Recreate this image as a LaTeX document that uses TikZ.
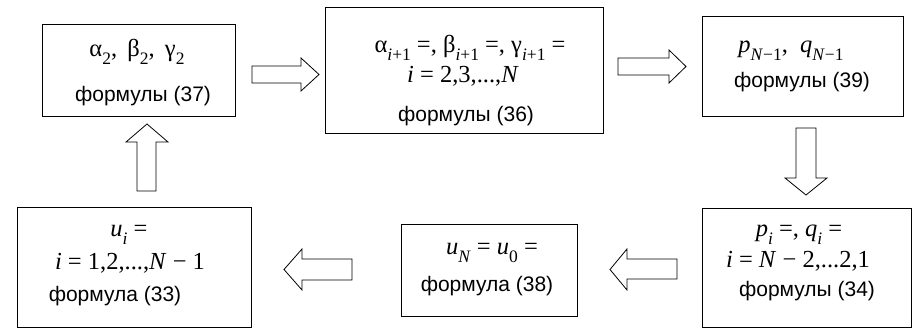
\documentclass[tikz,border=0pt]{standalone}
\usepackage{fontspec}
\setmainfont{Liberation Sans}
\newfontfamily\tms{Liberation Serif}
\newcommand\mathsz{\tms\fontsize{24.5}{28}\selectfont}
\newcommand\subs[1]{\raisebox{-0.3em}{\fontsize{17.5}{19}\selectfont #1}}
\newcommand\vi[1]{\textit{#1}}
\begin{document}
\begin{tikzpicture}[x=1pt,y=-1pt,
  box/.style={draw,line width=0.9pt,inner sep=0pt},
  blk/.style={draw,line width=0.8pt,line join=miter,fill=white},
  mtext/.style={anchor=base,inner sep=0pt,font=\mathsz},
  stext/.style={anchor=base,inner sep=0pt,font=\fontsize{21}{24}\selectfont}]
\useasboundingbox (0,0) rectangle (919,328);
% boxes
\node[box,minimum width=193pt,minimum height=92pt] (b1) at (138.5,70) {};
\node[box,minimum width=278pt,minimum height=126pt] (b2) at (464,70) {};
\node[box,minimum width=201pt,minimum height=100pt] (b3) at (802.5,66) {};
\node[box,minimum width=209pt,minimum height=119pt] (b4) at (806.5,267.5) {};
\node[box,minimum width=176pt,minimum height=92pt] (b5) at (489,270) {};
\node[box,minimum width=234pt,minimum height=120pt] (b6) at (134,267) {};
% texts
\node[mtext] (t1a) at (137,57) {α\subs{2}, \,β\subs{2}, \,γ\subs{2}};
\node[stext] (t1b) at (143,102) {формулы (37)};
\node[mtext] (t2a) at (470,53) {α\subs{\vi{i}+1} =, β\subs{\vi{i}+1} =, γ\subs{\vi{i}+1} =};
\node[mtext] (t2b) at (463,83) {\vi{i} = 2,3,...,\vi{N}};
\node[stext] (t2c) at (466,122) {формулы (36)};
\node[mtext] (t3a) at (791,53) {\vi{p}\subs{\vi{N}−1},\enspace \vi{q}\subs{\vi{N}−1}};
\node[stext] (t3b) at (802,88) {формулы (39)};
\node[mtext] (t4a) at (799,237) {\vi{p}\subs{\vi{i}} =, \vi{q}\subs{\vi{i}} =};
\node[mtext] (t4b) at (798,268) {\vi{i} = \vi{N} − 2,...2,1};
\node[stext] (t4c) at (807,297) {формулы (34)};
\node[mtext] (t5a) at (492,255) {\vi{u}\subs{\vi{N}} = \vi{u}\subs{0} =};
\node[stext] (t5b) at (487,292) {формула (38)};
\node[mtext] (t6a) at (129,237) {\vi{u}\subs{\vi{i}} =};
\node[mtext] (t6b) at (130,270) {\vi{i} = 1,2,...,\vi{N} − 1};
\node[stext] (t6c) at (115,302) {формула (33)};
% block arrows
\draw[blk] (252,66) -- (301,66) -- (301,58) -- (319,74.5) -- (301,91) -- (301,83) -- (252,83) -- cycle;
\draw[blk] (618,58) -- (669,58) -- (669,50) -- (686,66.5) -- (669,83) -- (669,75) -- (618,75) -- cycle;
\draw[blk] (796,128) -- (816,128) -- (816,178) -- (827,178) -- (806,195) -- (785,178) -- (796,178) -- cycle;
\draw[blk] (137,191) -- (156,191) -- (156,142) -- (168,142) -- (147,124) -- (126,142) -- (137,142) -- cycle;
\draw[blk] (352,259) -- (302,259) -- (302,249) -- (284,269.5) -- (302,290) -- (302,280) -- (352,280) -- cycle;
\draw[blk] (677,259) -- (627,259) -- (627,249) -- (610,269.5) -- (627,290) -- (627,279) -- (677,279) -- cycle;
\end{tikzpicture}
\end{document}
